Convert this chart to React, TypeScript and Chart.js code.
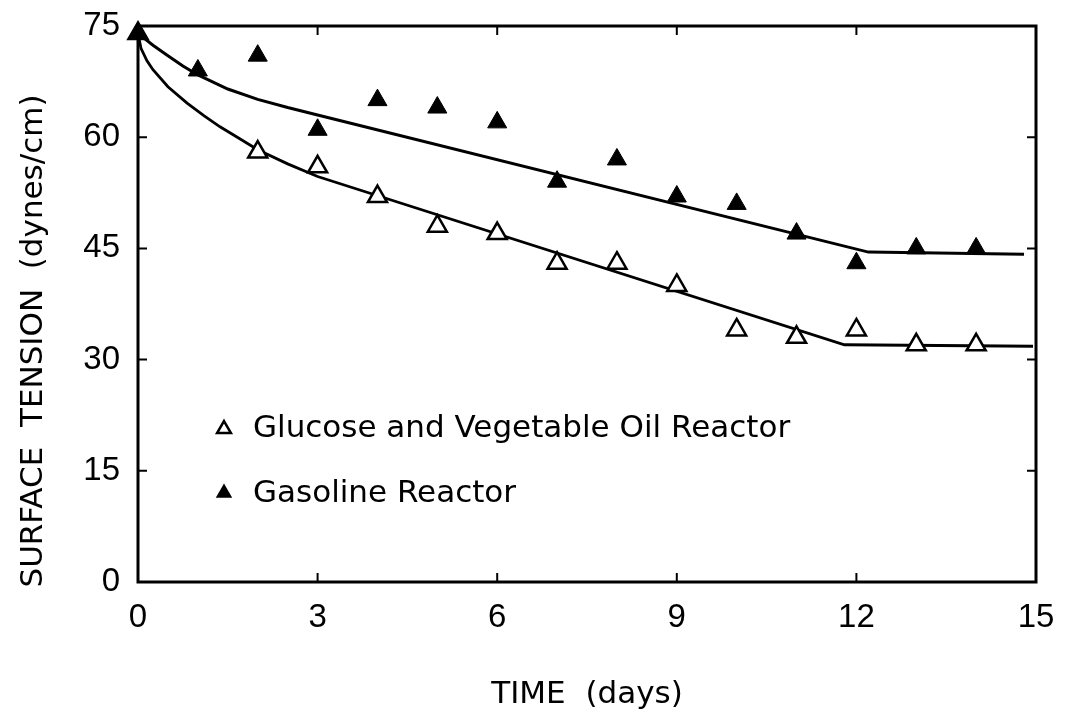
import React, { useEffect, useRef } from "react";
import { Chart, registerables } from "chart.js";

Chart.register(...registerables);

// ---- data ----
const glucoseDays = [0, 2, 3, 4, 5, 6, 7, 8, 9, 10, 11, 12, 13, 14];
const glucoseTension = [74, 58, 56, 52, 48, 47, 43, 43, 40, 34, 33, 34, 32, 32];

const gasolineDays = [0, 1, 2, 3, 4, 5, 6, 7, 8, 9, 10, 11, 12, 13, 14];
const gasolineTension = [74, 69, 71, 61, 65, 64, 62, 54, 57, 52, 51, 47, 43, 45, 45];

const glucoseFitDays = [0, 0.05, 0.15, 0.25, 0.5, 0.82, 1.1, 1.37, 1.7, 2, 2.5, 3, 11.8, 14.95];
const glucoseFitTension = [74, 72.0, 70.3, 69.1, 66.8, 64.6, 62.9, 61.4, 59.8, 58.3, 56.4, 54.7, 32.0, 31.8];

const gasolineFitDays = [0, 0.25, 0.5, 0.75, 1, 1.5, 2, 2.5, 3, 12.2, 14.8];
const gasolineFitTension = [74, 72.4, 71.0, 69.6, 68.4, 66.5, 65.1, 64.0, 63.0, 44.5, 44.2];

const xTicks = [0, 3, 6, 9, 12, 15];
const yTicks = [0, 15, 30, 45, 60, 75];

const xTitle = "TIME  (days)";
const yTitle = "SURFACE  TENSION  (dynes/cm)";
const legendGlucose = "Glucose and Vegetable Oil Reactor";
const legendGasoline = "Gasoline Reactor";

const pts = (xs: number[], ys: number[]) => xs.map((x, i) => ({ x, y: ys[i] }));

const TEXT_FONT = '31px "DejaVu Sans"';

function triangle(ctx: CanvasRenderingContext2D, x: number, y: number, r: number, filled: boolean) {
  ctx.beginPath();
  for (let k = 0; k < 3; k++) {
    const a = -Math.PI / 2 + (k * 2 * Math.PI) / 3;
    const px = x + Math.cos(a) * r;
    const py = y + Math.sin(a) * r;
    if (k === 0) ctx.moveTo(px, py);
    else ctx.lineTo(px, py);
  }
  ctx.closePath();
  if (filled) {
    ctx.fillStyle = "#000";
    ctx.fill();
  } else {
    ctx.fillStyle = "#fff";
    ctx.fill();
    ctx.lineWidth = 2.5;
    ctx.strokeStyle = "#000";
    ctx.stroke();
  }
}

const decor = {
  id: "decor",
  beforeDatasetsDraw(chart: any) {
    const { ctx, chartArea: a, scales } = chart;
    ctx.save();
    ctx.strokeStyle = "#000";
    ctx.lineWidth = 3;
    ctx.strokeRect(a.left, a.top, a.right - a.left, a.bottom - a.top);
    ctx.lineWidth = 2;
    const tl = 9;
    xTicks.slice(1, -1).forEach((v) => {
      const x = scales.x.getPixelForValue(v);
      ctx.beginPath();
      ctx.moveTo(x, a.bottom);
      ctx.lineTo(x, a.bottom - tl);
      ctx.moveTo(x, a.top);
      ctx.lineTo(x, a.top + tl);
      ctx.stroke();
    });
    yTicks.slice(1, -1).forEach((v) => {
      const y = scales.y.getPixelForValue(v);
      ctx.beginPath();
      ctx.moveTo(a.left, y);
      ctx.lineTo(a.left + tl, y);
      ctx.moveTo(a.right, y);
      ctx.lineTo(a.right - tl, y);
      ctx.stroke();
    });
    ctx.restore();
  },
  afterDraw(chart: any) {
    const { ctx, chartArea: a } = chart;
    ctx.save();
    ctx.fillStyle = "#000";
    ctx.font = TEXT_FONT;
    ctx.textBaseline = "alphabetic";
    ctx.textAlign = "center";
    ctx.fillText(xTitle, (a.left + a.right) / 2, 703);
    ctx.save();
    ctx.translate(42, 341);
    ctx.rotate(-Math.PI / 2);
    ctx.fillText(yTitle, 0, 0);
    ctx.restore();
    ctx.textAlign = "left";
    triangle(ctx, 224, 429, 8, false);
    ctx.fillStyle = "#000";
    ctx.fillText(legendGlucose, 253, 437);
    triangle(ctx, 224, 493, 9.5, true);
    ctx.fillStyle = "#000";
    ctx.fillText(legendGasoline, 253, 502);
    ctx.restore();
  },
};

export default function App() {
  const ref = useRef<HTMLCanvasElement | null>(null);

  useEffect(() => {
    if (!ref.current) return;
    const chart = new Chart(ref.current, {
      type: "scatter",
      data: {
        datasets: [
          {
            label: "Gasoline fit",
            type: "line",
            data: pts(gasolineFitDays, gasolineFitTension),
            borderColor: "#000",
            borderWidth: 3,
            pointRadius: 0,
            showLine: true,
            fill: false,
            tension: 0,
            order: 4,
            clip: false,
          } as any,
          {
            label: "Glucose fit",
            type: "line",
            data: pts(glucoseFitDays, glucoseFitTension),
            borderColor: "#000",
            borderWidth: 2.8,
            pointRadius: 0,
            showLine: true,
            fill: false,
            tension: 0,
            order: 3,
            clip: false,
          } as any,
          {
            label: legendGlucose,
            data: pts(glucoseDays, glucoseTension),
            pointStyle: "triangle",
            pointRadius: 11,
            pointBackgroundColor: "#fff",
            pointBorderColor: "#000",
            pointBorderWidth: 2.5,
            showLine: false,
            order: 2,
            clip: false,
          } as any,
          {
            label: legendGasoline,
            data: pts(gasolineDays, gasolineTension),
            pointStyle: "triangle",
            pointRadius: 11,
            pointBackgroundColor: "#000",
            pointBorderColor: "#000",
            pointBorderWidth: 1,
            showLine: false,
            order: 1,
            clip: false,
          } as any,
        ],
      },
      options: {
        animation: false,
        responsive: true,
        maintainAspectRatio: false,
        layout: { padding: { top: 26, right: 31, left: 0, bottom: 0 } },
        plugins: {
          legend: { display: false },
          tooltip: { enabled: false },
          title: { display: false },
        },
        scales: {
          x: {
            type: "linear",
            min: xTicks[0],
            max: xTicks[xTicks.length - 1],
            afterBuildTicks: (s: any) => {
              s.ticks = xTicks.map((v) => ({ value: v }));
            },
            afterFit: (s: any) => {
              s.height = 134;
              s.paddingLeft = 0;
              s.paddingRight = 0;
            },
            grid: { display: false, drawTicks: false },
            border: { display: false },
            ticks: {
              color: "#000",
              font: { family: "Liberation Sans", size: 33 },
              padding: 16,
              maxRotation: 0,
              autoSkip: false,
            },
          },
          y: {
            type: "linear",
            min: yTicks[0],
            max: yTicks[yTicks.length - 1],
            afterBuildTicks: (s: any) => {
              s.ticks = yTicks.map((v) => ({ value: v }));
            },
            afterFit: (s: any) => {
              s.width = 138;
              s.paddingTop = 0;
              s.paddingBottom = 0;
            },
            grid: { display: false, drawTicks: false },
            border: { display: false },
            ticks: {
              color: "#000",
              font: { family: "Liberation Sans", size: 33 },
              padding: 18,
              autoSkip: false,
            },
          },
        },
      },
      plugins: [decor],
    });
    return () => chart.destroy();
  }, []);

  return (
    <div style={{ position: "fixed", left: 0, top: 0, width: 1067, height: 716, background: "#fff" }}>
      <canvas ref={ref} />
    </div>
  );
}
